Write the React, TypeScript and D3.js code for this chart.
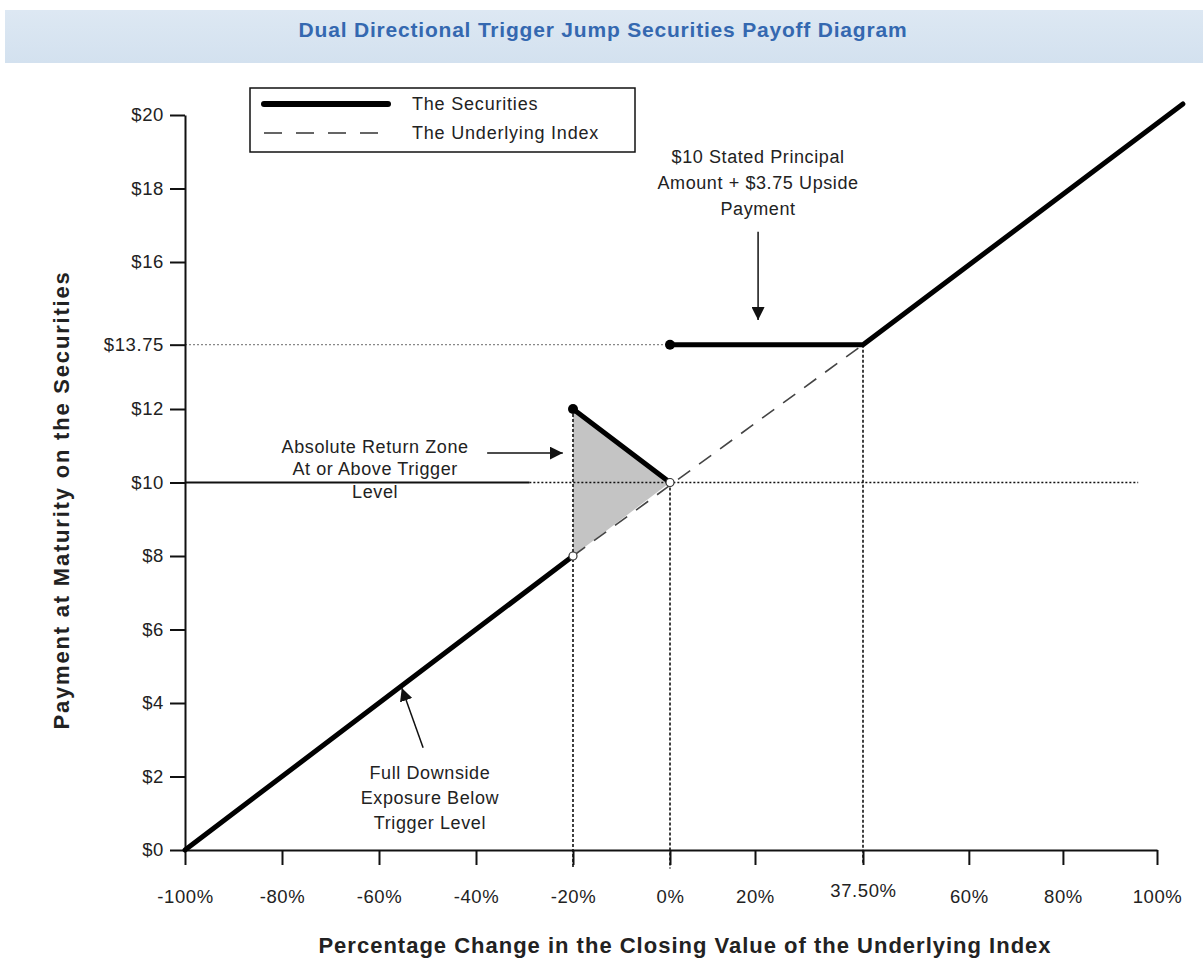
import * as d3 from "d3";
import { useEffect, useRef } from "react";

// tick values and labels
const xTicks = [-100, -80, -60, -40, -20, 0, 20, 37.5, 60, 80, 100];
const xTickLabels = ["-100%", "-80%", "-60%", "-40%", "-20%", "0%", "20%", "37.50%", "60%", "80%", "100%"];
const yTicks = [0, 2, 4, 6, 8, 10, 12, 13.75, 16, 18, 20];
const yTickLabels = ["$0", "$2", "$4", "$6", "$8", "$10", "$12", "$13.75", "$16", "$18", "$20"];

// payoff pieces: [% change, payment]
const securitiesBelow: [number, number][] = [[-100, 0], [-20, 8]];
const securitiesZone: [number, number][] = [[-20, 12], [0, 10]];
const securitiesAbove: [number, number][] = [[0, 13.75], [37.5, 13.75], [105.5, 20.3]];
const underlyingIndex: [number, number][] = [[-20, 8], [37.5, 13.75]];
const returnZone: [number, number][] = [[-20, 8], [-20, 12], [0, 10]];
const filledDots: [number, number][] = [[-20, 12], [0, 13.75]];
const openDots: [number, number][] = [[-20, 8], [0, 10]];

// guide lines
const triggerSolid: [number, number][] = [[-100, 10], [-29, 10]];
const triggerDotted: [number, number][] = [[-29, 10], [96, 10]];
const capDotted: [number, number][] = [[-100, 13.75], [0, 13.75]];
const verticalGuides: [number, number][][] = [
  [[-20, 12], [-20, -0.5]],
  [[0, 10], [0, -0.5]],
  [[37.5, 13.75], [37.5, -0.4]],
];

// annotations
const notes = [
  { lines: ["Absolute Return Zone", "At or Above Trigger", "Level"], at: [-60.8, 10.97], gap: 22.5, arrow: [[-37.7, 10.8], [-22.1, 10.8]] },
  { lines: ["$10 Stated Principal", "Amount + $3.75 Upside", "Payment"], at: [20.5, 18.86], gap: 26, arrow: [[20.5, 16.82], [20.5, 14.42]] },
  { lines: ["Full Downside", "Exposure Below", "Trigger Level"], at: [-49.5, 2.1], gap: 25, arrow: [[-50.9, 2.78], [-55.3, 4.41]] },
];

const legendLabels = ["The Securities", "The Underlying Index"];

const W = 1203;
const H = 965;
const FONT = "'Liberation Sans', Arial, sans-serif";

export default function App() {
  const ref = useRef<SVGSVGElement>(null);

  useEffect(() => {
    const svg = d3.select(ref.current);
    svg.selectAll("*").remove();

    // x spacing in the original is not even, so use a piecewise scale
    const x = d3.scaleLinear().domain([-100, 0, 20, 37.5, 100]).range([185, 670, 755, 863, 1157]);
    const y = d3.scaleLinear().domain([0, 20]).range([850, 115]);

    const defs = svg.append("defs");
    defs
      .append("marker")
      .attr("id", "arrow")
      .attr("viewBox", "0 0 10 10")
      .attr("refX", 10)
      .attr("refY", 5)
      .attr("markerWidth", 13)
      .attr("markerHeight", 13)
      .attr("markerUnits", "userSpaceOnUse")
      .attr("orient", "auto")
      .append("path")
      .attr("d", "M0,0 L10,5 L0,10 Z")
      .attr("fill", "#111");
    const grad = defs.append("linearGradient").attr("id", "band").attr("x1", 0).attr("x2", 0).attr("y1", 0).attr("y2", 1);
    grad.append("stop").attr("offset", "0%").attr("stop-color", "#dde8f3");
    grad.append("stop").attr("offset", "100%").attr("stop-color", "#d3e1ef");

    // title band
    svg.append("rect").attr("x", 5).attr("y", 10).attr("width", W - 5).attr("height", 53).attr("fill", "url(#band)");
    svg
      .append("text")
      .attr("x", 603)
      .attr("y", 37)
      .attr("text-anchor", "middle")
      .attr("font-family", FONT)
      .attr("font-weight", "bold")
      .attr("font-size", 21)
      .attr("letter-spacing", 0.8)
      .attr("fill", "#3468b0")
      .text("Dual Directional Trigger Jump Securities Payoff Diagram");

    const line = d3
      .line<[number, number]>()
      .x((d) => x(d[0]))
      .y((d) => y(d[1]));

    // shaded zone
    svg.append("path").datum(returnZone).attr("d", line.curve(d3.curveLinearClosed)).attr("fill", "#c4c4c4");
    line.curve(d3.curveLinear);

    // guides
    svg.append("path").datum(capDotted).attr("d", line).attr("stroke", "#888").attr("stroke-width", 1.2).attr("stroke-dasharray", "2,2").attr("fill", "none");
    svg.append("path").datum(triggerSolid).attr("d", line).attr("stroke", "#111").attr("stroke-width", 1.8).attr("fill", "none");
    svg.append("path").datum(triggerDotted).attr("d", line).attr("stroke", "#111").attr("stroke-width", 1.5).attr("stroke-dasharray", "2,2").attr("fill", "none");
    verticalGuides.forEach((g) => {
      svg.append("path").datum(g).attr("d", line).attr("stroke", "#111").attr("stroke-width", 1.6).attr("stroke-dasharray", "3,2").attr("fill", "none");
    });

    // axes
    const yAxis = svg
      .append("g")
      .attr("transform", `translate(${x(-100)},0)`)
      .call(
        d3
          .axisLeft(y)
          .tickValues(yTicks)
          .tickFormat((_, i) => yTickLabels[i])
          .tickSize(15)
          .tickSizeOuter(0)
          .tickPadding(6)
      );
    const xAxis = svg
      .append("g")
      .attr("transform", `translate(0,${y(0)})`)
      .call(
        d3
          .axisBottom(x)
          .tickValues(xTicks)
          .tickFormat((_, i) => xTickLabels[i])
          .tickSize(15)
          .tickSizeOuter(0)
          .tickPadding(25)
      );
    [yAxis, xAxis].forEach((a) => {
      a.select(".domain").attr("stroke", "#111").attr("stroke-width", 2);
      a.selectAll(".tick line").attr("stroke", "#111").attr("stroke-width", 2);
      a.selectAll(".tick text")
        .attr("font-family", FONT)
        .attr("font-size", 18.5)
        .attr("letter-spacing", 0.6)
        .attr("fill", "#222");
    });
    xAxis
      .selectAll<SVGTextElement, number>(".tick text")
      .filter((d) => d === 37.5)
      .attr("y", 34);

    // underlying index
    svg.append("path").datum(underlyingIndex).attr("d", line).attr("stroke", "#444").attr("stroke-width", 1.6).attr("stroke-dasharray", "15,11").attr("fill", "none");

    // securities
    [securitiesBelow, securitiesZone, securitiesAbove].forEach((seg) => {
      svg.append("path").datum(seg).attr("d", line).attr("stroke", "#000").attr("stroke-width", 5).attr("stroke-linecap", "round").attr("stroke-linejoin", "round").attr("fill", "none");
    });
    svg.selectAll(".fdot").data(filledDots).enter().append("circle").attr("cx", (d) => x(d[0])).attr("cy", (d) => y(d[1])).attr("r", 5).attr("fill", "#000");
    svg.selectAll(".odot").data(openDots).enter().append("circle").attr("cx", (d) => x(d[0])).attr("cy", (d) => y(d[1])).attr("r", 4).attr("fill", "#fff").attr("stroke", "#333").attr("stroke-width", 1.2);

    // annotations
    notes.forEach((n) => {
      const t = svg
        .append("text")
        .attr("text-anchor", "middle")
        .attr("font-family", FONT)
        .attr("font-size", 18)
        .attr("letter-spacing", 0.6)
        .attr("fill", "#222");
      n.lines.forEach((l, i) => {
        t.append("tspan").attr("x", x(n.at[0])).attr("y", y(n.at[1]) + 6 + i * n.gap).text(l);
      });
      svg
        .append("path")
        .datum(n.arrow as [number, number][])
        .attr("d", line)
        .attr("stroke", "#111")
        .attr("stroke-width", 1.5)
        .attr("fill", "none")
        .attr("marker-end", "url(#arrow)");
    });

    // axis titles
    svg
      .append("text")
      .attr("transform", `translate(69,500) rotate(-90)`)
      .attr("text-anchor", "middle")
      .attr("font-family", FONT)
      .attr("font-weight", "bold")
      .attr("font-size", 22)
      .attr("letter-spacing", 1.8)
      .attr("fill", "#222")
      .text("Payment at Maturity on the Securities");
    svg
      .append("text")
      .attr("x", 685)
      .attr("y", 953)
      .attr("text-anchor", "middle")
      .attr("font-family", FONT)
      .attr("font-weight", "bold")
      .attr("font-size", 22)
      .attr("letter-spacing", 1)
      .attr("fill", "#222")
      .text("Percentage Change in the Closing Value of the Underlying Index");

    // legend
    const lg = svg.append("g").attr("transform", "translate(250,88)");
    lg.append("rect").attr("width", 385).attr("height", 64).attr("fill", "#fff").attr("stroke", "#111").attr("stroke-width", 1.5);
    lg.append("line").attr("x1", 14).attr("x2", 138).attr("y1", 16).attr("y2", 16).attr("stroke", "#000").attr("stroke-width", 6).attr("stroke-linecap", "round");
    lg.append("line").attr("x1", 14).attr("x2", 138).attr("y1", 45).attr("y2", 45).attr("stroke", "#333").attr("stroke-width", 1.5).attr("stroke-dasharray", "18,14");
    lg.selectAll(".lbl")
      .data(legendLabels)
      .enter()
      .append("text")
      .attr("x", 162)
      .attr("y", (_, i) => 22 + i * 29)
      .attr("font-family", FONT)
      .attr("font-size", 18)
      .attr("letter-spacing", 0.8)
      .attr("fill", "#222")
      .text((d) => d);
  }, []);

  return (
    <svg
      ref={ref}
      width={W}
      height={H}
      style={{ position: "absolute", left: 0, top: 0, background: "#fff" }}
    ></svg>
  );
}
